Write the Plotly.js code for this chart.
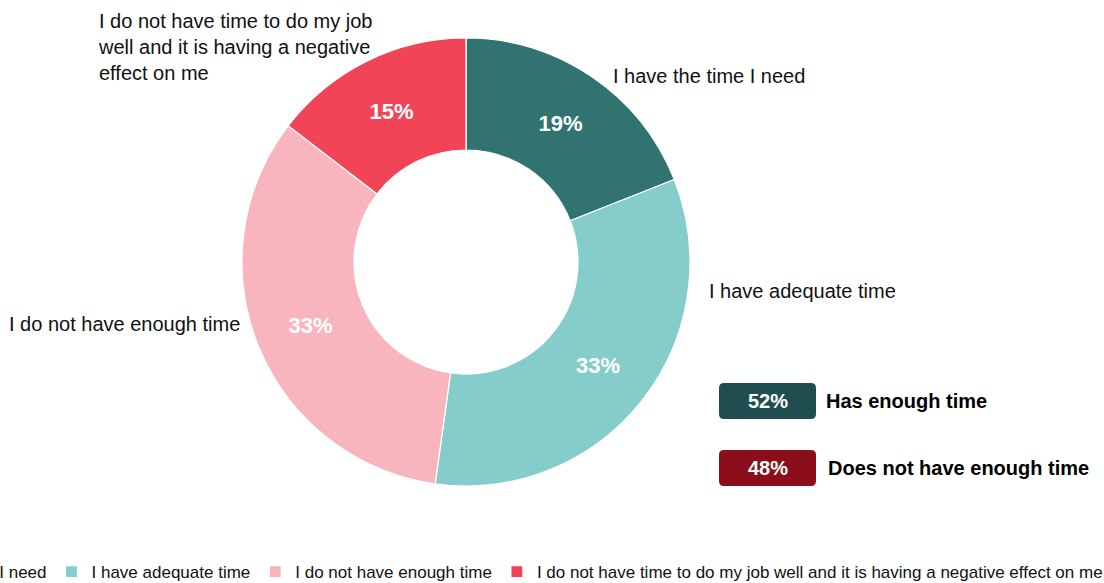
<!DOCTYPE html>
<html>
<head>
<meta charset="utf-8">
<script src="https://cdn.plot.ly/plotly-3.0.1.min.js"></script>
<style>
html, body { margin:0; padding:0; overflow:hidden; width:1104px; height:583px; background:#fff; }
#chart { position:absolute; top:0; left:-292px; width:1400px; height:583px; }
</style>
</head>
<body>
<div id="chart"></div>
<script>
// Data
const categories = [
  "I have the time I need",
  "I have adequate time",
  "I do not have enough time",
  "I do not have time to do my job well and it is having a negative effect on me"
];
const values = [19, 33.2, 33.2, 14.6];
const sliceColors = ["#317370", "#85CDCB", "#F8B5BD", "#F24457"];
const outsideLabels = [
  "I have the time I need",
  "I have adequate time",
  "I do not have enough time",
  "I do not have time to do my job<br>well and it is having a negative<br>effect on me"
];
const summaryValues = [52, 48];
const summaryLabels = ["Has enough time", "Does not have enough time"];
const summaryColors = ["#1F4E4F", "#8C0E1A"];

// Layout helpers (page pixels -> paper fractions)
const W = 1400, H = 583, OFF = 292;
const px = x => (x + OFF) / W;
const py = y => (H - y) / H;
const FONT = '"Liberation Sans", Arial, sans-serif';

function roundRect(x0, y0, x1, y1, r) {
  const X = v => px(v).toFixed(5), Y = v => py(v).toFixed(5);
  return `M${X(x0+r)},${Y(y0)} L${X(x1-r)},${Y(y0)} Q${X(x1)},${Y(y0)} ${X(x1)},${Y(y0+r)} ` +
         `L${X(x1)},${Y(y1-r)} Q${X(x1)},${Y(y1)} ${X(x1-r)},${Y(y1)} ` +
         `L${X(x0+r)},${Y(y1)} Q${X(x0)},${Y(y1)} ${X(x0)},${Y(y1-r)} ` +
         `L${X(x0)},${Y(y0+r)} Q${X(x0)},${Y(y0)} ${X(x0+r)},${Y(y0)} Z`;
}

const trace = {
  type: "pie",
  labels: categories,
  values: values,
  sort: false,
  direction: "clockwise",
  rotation: 0,
  hole: 0.5,
  marker: { colors: sliceColors, line: { color: "#ffffff", width: 1.2 } },
  texttemplate: "%{value:.0f}%",
  textposition: "inside",
  insidetextorientation: "horizontal",
  insidetextfont: { family: FONT, size: 22, color: "#ffffff", weight: "bold" },
  domain: { x: [px(466 - 224), px(466 + 224)], y: [py(486), py(38)] },
  hoverinfo: "label+percent"
};

const annotations = [
  { x: px(611), y: py(76), text: outsideLabels[0] },
  { x: px(707), y: py(291), text: outsideLabels[1] },
  { x: px(7), y: py(324), text: outsideLabels[2] },
  { x: px(96), y: py(47), text: outsideLabels[3] }
].map(a => Object.assign({
  xref: "paper", yref: "paper", xanchor: "left", yanchor: "middle",
  showarrow: false, align: "left",
  font: { family: FONT, size: 20, color: "#111111" }
}, a));

const boxTop = [383, 450];
const shapes = [];
summaryValues.forEach((v, i) => {
  const y0 = boxTop[i], y1 = y0 + 36;
  shapes.push({
    type: "path", xref: "paper", yref: "paper",
    path: roundRect(719, y0, 816, y1, 5),
    fillcolor: summaryColors[i], line: { width: 0 }
  });
  annotations.push({
    xref: "paper", yref: "paper", x: px(767.5), y: py((y0 + y1) / 2),
    xanchor: "center", yanchor: "middle", showarrow: false,
    text: "<b>" + v + "%</b>",
    font: { family: FONT, size: 20, color: "#ffffff" }
  });
  annotations.push({
    xref: "paper", yref: "paper", x: px(i === 0 ? 824 : 826), y: py((y0 + y1) / 2),
    xanchor: "left", yanchor: "middle", showarrow: false,
    text: "<b>" + summaryLabels[i] + "</b>",
    font: { family: FONT, size: 20, color: "#000000" }
  });
});

const layout = {
  width: W, height: H,
  margin: { l: 0, r: 0, t: 0, b: 0, pad: 0, autoexpand: false },
  paper_bgcolor: "#ffffff",
  plot_bgcolor: "#ffffff",
  font: { family: FONT, color: "#111111" },
  showlegend: true,
  legend: {
    orientation: "h",
    x: 1, xanchor: "right",
    y: py(572), yanchor: "middle",
    font: { family: FONT, size: 17, color: "#111111" },
    bgcolor: "rgba(0,0,0,0)",
    traceorder: "normal"
  },
  annotations: annotations,
  shapes: shapes
};

Plotly.newPlot("chart", [trace], layout, { displayModeBar: false, staticPlot: true });
</script>
</body>
</html>
